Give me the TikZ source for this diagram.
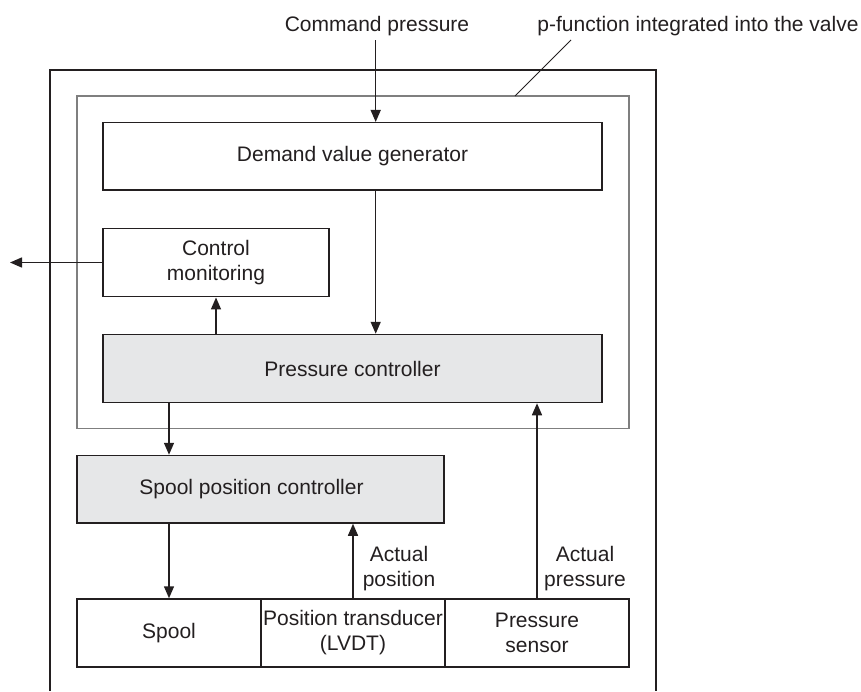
\documentclass[tikz,border=0pt]{standalone}
\usepackage{fontspec}
\setmainfont{Liberation Sans}
\usetikzlibrary{arrows.meta,calc}
\definecolor{dk}{HTML}{231F20}
\definecolor{shade}{HTML}{E6E7E8}
\definecolor{thin}{HTML}{7F7F7F}
\newcommand\fs{\fontsize{21}{25}\selectfont}
\begin{document}
\begin{tikzpicture}[x=1pt,y=-1pt,
  box/.style={draw=dk, line width=1.5pt, fill=white, inner sep=0pt, align=center, font=\fs, text=dk},
  shaded/.style={box, fill=shade},
  lbl/.style={inner sep=0pt, align=center, font=\fs, text=dk},
  arr/.style={draw=dk, line width=1.5pt, -{Triangle[length=12pt,width=10pt]}},
  frame/.style={draw=dk, line width=2.6pt},
  inner/.style={draw=thin, line width=1.3pt},
  leader/.style={draw=dk, line width=0.8pt}
]
\useasboundingbox (0,0) rectangle (861,691);
% outer valve frame (open at the bottom)
\draw[frame] (50,691) -- (50,70) -- (656,70) -- (656,691);
% p-function box
\node[inner, minimum width=552pt, minimum height=332.5pt, inner sep=0pt] (pfun) at (353,262.25) {};
% labels
\node[lbl, anchor=base] (cmdl) at (377,31) {Command pressure};
\node[lbl, anchor=base] (pfl) at (698,31) {p-function integrated into the valve};
\coordinate (cmdtop) at (375.7,40);
\coordinate (leadtop) at (571,40);
\draw[leader] (leadtop) -- (515,96);
% blocks
\node[box, minimum width=499pt, minimum height=67.3pt] (demand) at (352.5,156.35) {Demand value generator};
\node[box, minimum width=226pt, minimum height=68.4pt] (monitor) at (216,262.5) {Control\\monitoring};
\node[shaded, minimum width=499pt, minimum height=68pt] (pressure) at (352.5,368.5) {Pressure controller};
\node[shaded, minimum width=367pt, minimum height=67.5pt] (spoolctrl) at (260.5,489.25) {\hspace*{-18pt}Spool position controller};
\node[box, minimum width=184pt, minimum height=68pt] (spool) at (169,633) {Spool};
\node[box, minimum width=184pt, minimum height=68pt] (lvdt) at (353,633) {Position transducer\\(LVDT)};
\node[box, minimum width=184pt, minimum height=68pt] (sensor) at (537,633) {Pressure\\sensor};
\node[lbl] (actpos) at (399,568.5) {Actual\\position};
\node[lbl] (actpr) at (585,568.5) {Actual\\pressure};
\coordinate (outl) at (10,262.5);
% connectors
\draw[arr] (cmdtop) -- (cmdtop |- demand.north);
\draw[arr] (cmdtop |- demand.south) -- (cmdtop |- pressure.north);
\draw[arr] (monitor.south |- pressure.north) -- (monitor.south);
\draw[arr] (monitor.west) -- (outl);
\draw[arr] (spool.north |- pressure.south) -- (spool.north |- spoolctrl.north);
\draw[arr] (spool.north |- spoolctrl.south) -- (spool.north);
\draw[arr] (lvdt.north) -- (lvdt.north |- spoolctrl.south);
\draw[arr] (sensor.north) -- (sensor.north |- pressure.south);
\end{tikzpicture}
\end{document}
